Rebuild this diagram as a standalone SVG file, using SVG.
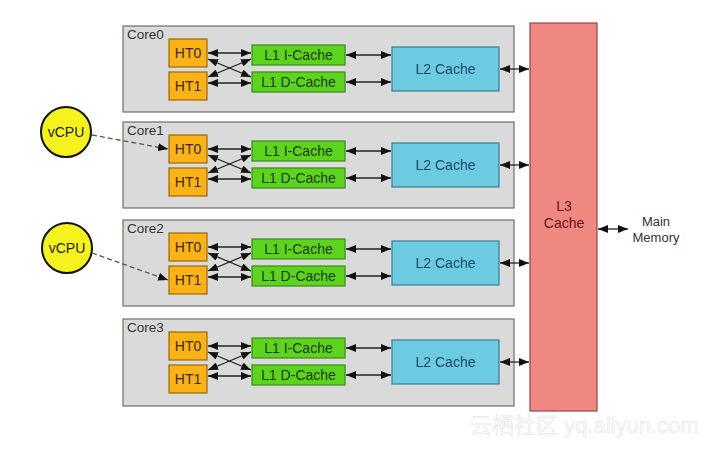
<svg xmlns="http://www.w3.org/2000/svg" width="720" height="452" viewBox="0 0 720 452">
<style>
text{font-family:"Liberation Sans",Arial,sans-serif;font-size:14px}
.core{fill:#dadada;stroke:#6e6e6e;stroke-width:1.2}
.clab{fill:#333;text-anchor:start;font-size:13.5px}
.ht{fill:#fbb216;stroke:#9a6a08;stroke-width:1.2}
.htt{fill:#3b2a05;text-anchor:middle}
.l1{fill:#5cd41e;stroke:#3c8a16;stroke-width:1.2}
.l1t{fill:#1e3a0a;text-anchor:middle}
.l2{fill:#6ccbe0;stroke:#3a7d98;stroke-width:1.2}
.l2t{fill:#1c4b6a;text-anchor:middle}
.l3{fill:#f08882;stroke:#934845;stroke-width:1.2}
.l3t{fill:#6b1414;text-anchor:middle}
.vc{fill:#f5f21c;stroke:#111;stroke-width:2}
.vct{fill:#1a1a1a;text-anchor:middle;font-size:14px}
.a{stroke:#222;stroke-width:1.3;fill:none;marker-start:url(#ah);marker-end:url(#ah)}
.d{stroke:#555;stroke-width:1.3;fill:none;stroke-dasharray:5 3;marker-end:url(#ah)}
.mm{fill:#333;text-anchor:middle;font-size:13px}
.wm{fill:#fbfbfb;stroke:#e8e8e8;stroke-width:0.6;font-size:22px;font-family:"Liberation Sans","Noto Sans CJK SC",sans-serif}
</style>
<defs>
<marker id="ah" viewBox="0 0 10 10" refX="10" refY="5" markerUnits="userSpaceOnUse" markerWidth="10" markerHeight="8" orient="auto-start-reverse" preserveAspectRatio="none">
<path d="M0,0 L10,5 L0,10 z" fill="#111"/>
</marker>
</defs>

<g id="l3cache">
<rect class="l3" x="530" y="23" width="67" height="388"/>
<text class="l3t" x="564" y="211">L3</text>
<text class="l3t" x="564" y="228">Cache</text>
</g>

<g id="core0">
<rect class="core" x="123" y="26" width="391" height="86"/>
<text class="clab" x="127" y="39">Core0</text>
<g id="core0-ht0"><rect class="ht" x="169" y="39" width="38" height="28"/><text class="htt" x="188" y="58">HT0</text></g>
<g id="core0-ht1"><rect class="ht" x="169" y="72" width="38" height="28"/><text class="htt" x="188" y="91">HT1</text></g>
<g id="core0-l1i"><rect class="l1" x="252" y="45" width="93" height="20"/><text class="l1t" x="298.5" y="60">L1 I-Cache</text></g>
<g id="core0-l1d"><rect class="l1" x="252" y="72" width="93" height="20"/><text class="l1t" x="298.5" y="87">L1 D-Cache</text></g>
<g id="core0-l2"><rect class="l2" x="392" y="47" width="107" height="44"/><text class="l2t" x="445.5" y="74">L2 Cache</text></g>
</g>

<g id="core1">
<rect class="core" x="123" y="122" width="391" height="86"/>
<text class="clab" x="127" y="135">Core1</text>
<g id="core1-ht0"><rect class="ht" x="169" y="135" width="38" height="28"/><text class="htt" x="188" y="154">HT0</text></g>
<g id="core1-ht1"><rect class="ht" x="169" y="168" width="38" height="28"/><text class="htt" x="188" y="187">HT1</text></g>
<g id="core1-l1i"><rect class="l1" x="252" y="141" width="93" height="20"/><text class="l1t" x="298.5" y="156">L1 I-Cache</text></g>
<g id="core1-l1d"><rect class="l1" x="252" y="168" width="93" height="20"/><text class="l1t" x="298.5" y="183">L1 D-Cache</text></g>
<g id="core1-l2"><rect class="l2" x="392" y="143" width="107" height="44"/><text class="l2t" x="445.5" y="170">L2 Cache</text></g>
</g>

<g id="core2">
<rect class="core" x="123" y="220" width="391" height="86"/>
<text class="clab" x="127" y="233">Core2</text>
<g id="core2-ht0"><rect class="ht" x="169" y="233" width="38" height="28"/><text class="htt" x="188" y="252">HT0</text></g>
<g id="core2-ht1"><rect class="ht" x="169" y="266" width="38" height="28"/><text class="htt" x="188" y="285">HT1</text></g>
<g id="core2-l1i"><rect class="l1" x="252" y="239" width="93" height="20"/><text class="l1t" x="298.5" y="254">L1 I-Cache</text></g>
<g id="core2-l1d"><rect class="l1" x="252" y="266" width="93" height="20"/><text class="l1t" x="298.5" y="281">L1 D-Cache</text></g>
<g id="core2-l2"><rect class="l2" x="392" y="241" width="107" height="44"/><text class="l2t" x="445.5" y="268">L2 Cache</text></g>
</g>

<g id="core3">
<rect class="core" x="123" y="319" width="391" height="87"/>
<text class="clab" x="127" y="332">Core3</text>
<g id="core3-ht0"><rect class="ht" x="169" y="332" width="38" height="28"/><text class="htt" x="188" y="351">HT0</text></g>
<g id="core3-ht1"><rect class="ht" x="169" y="365" width="38" height="28"/><text class="htt" x="188" y="384">HT1</text></g>
<g id="core3-l1i"><rect class="l1" x="252" y="338" width="93" height="20"/><text class="l1t" x="298.5" y="353">L1 I-Cache</text></g>
<g id="core3-l1d"><rect class="l1" x="252" y="365" width="93" height="20"/><text class="l1t" x="298.5" y="380">L1 D-Cache</text></g>
<g id="core3-l2"><rect class="l2" x="392" y="340" width="107" height="44"/><text class="l2t" x="445.5" y="367">L2 Cache</text></g>
</g>

<g id="vcpu0"><circle class="vc" cx="66" cy="132" r="25"/><text class="vct" x="66" y="137">vCPU</text></g>
<g id="vcpu1"><circle class="vc" cx="67" cy="248" r="25"/><text class="vct" x="67" y="253">vCPU</text></g>

<g id="mainmem">
<text class="mm" x="656" y="226">Main</text>
<text class="mm" x="656" y="242">Memory</text>
</g>

<g id="connectors">
<path class="a" d="M208,53 H251"/><path class="a" d="M208,83 H251"/>
<path class="a" d="M208,59 L251,77"/><path class="a" d="M208,77 L251,59"/>
<path class="a" d="M346,55 H391"/><path class="a" d="M346,82 H391"/>
<path class="a" d="M500,69 H529"/>

<path class="a" d="M208,149 H251"/><path class="a" d="M208,179 H251"/>
<path class="a" d="M208,155 L251,173"/><path class="a" d="M208,173 L251,155"/>
<path class="a" d="M346,151 H391"/><path class="a" d="M346,178 H391"/>
<path class="a" d="M500,165 H529"/>

<path class="a" d="M208,247 H251"/><path class="a" d="M208,277 H251"/>
<path class="a" d="M208,253 L251,271"/><path class="a" d="M208,271 L251,253"/>
<path class="a" d="M346,249 H391"/><path class="a" d="M346,276 H391"/>
<path class="a" d="M500,263 H529"/>

<path class="a" d="M208,346 H251"/><path class="a" d="M208,376 H251"/>
<path class="a" d="M208,352 L251,370"/><path class="a" d="M208,370 L251,352"/>
<path class="a" d="M346,348 H391"/><path class="a" d="M346,375 H391"/>
<path class="a" d="M500,362 H529"/>

<path class="a" d="M598,229 H628"/>

<path class="d" d="M92,135 L168,149"/>
<path class="d" d="M92,253 L168,280"/>
</g>

<text class="wm" x="470" y="433">云栖社区 yq.aliyun.com</text>
</svg>
